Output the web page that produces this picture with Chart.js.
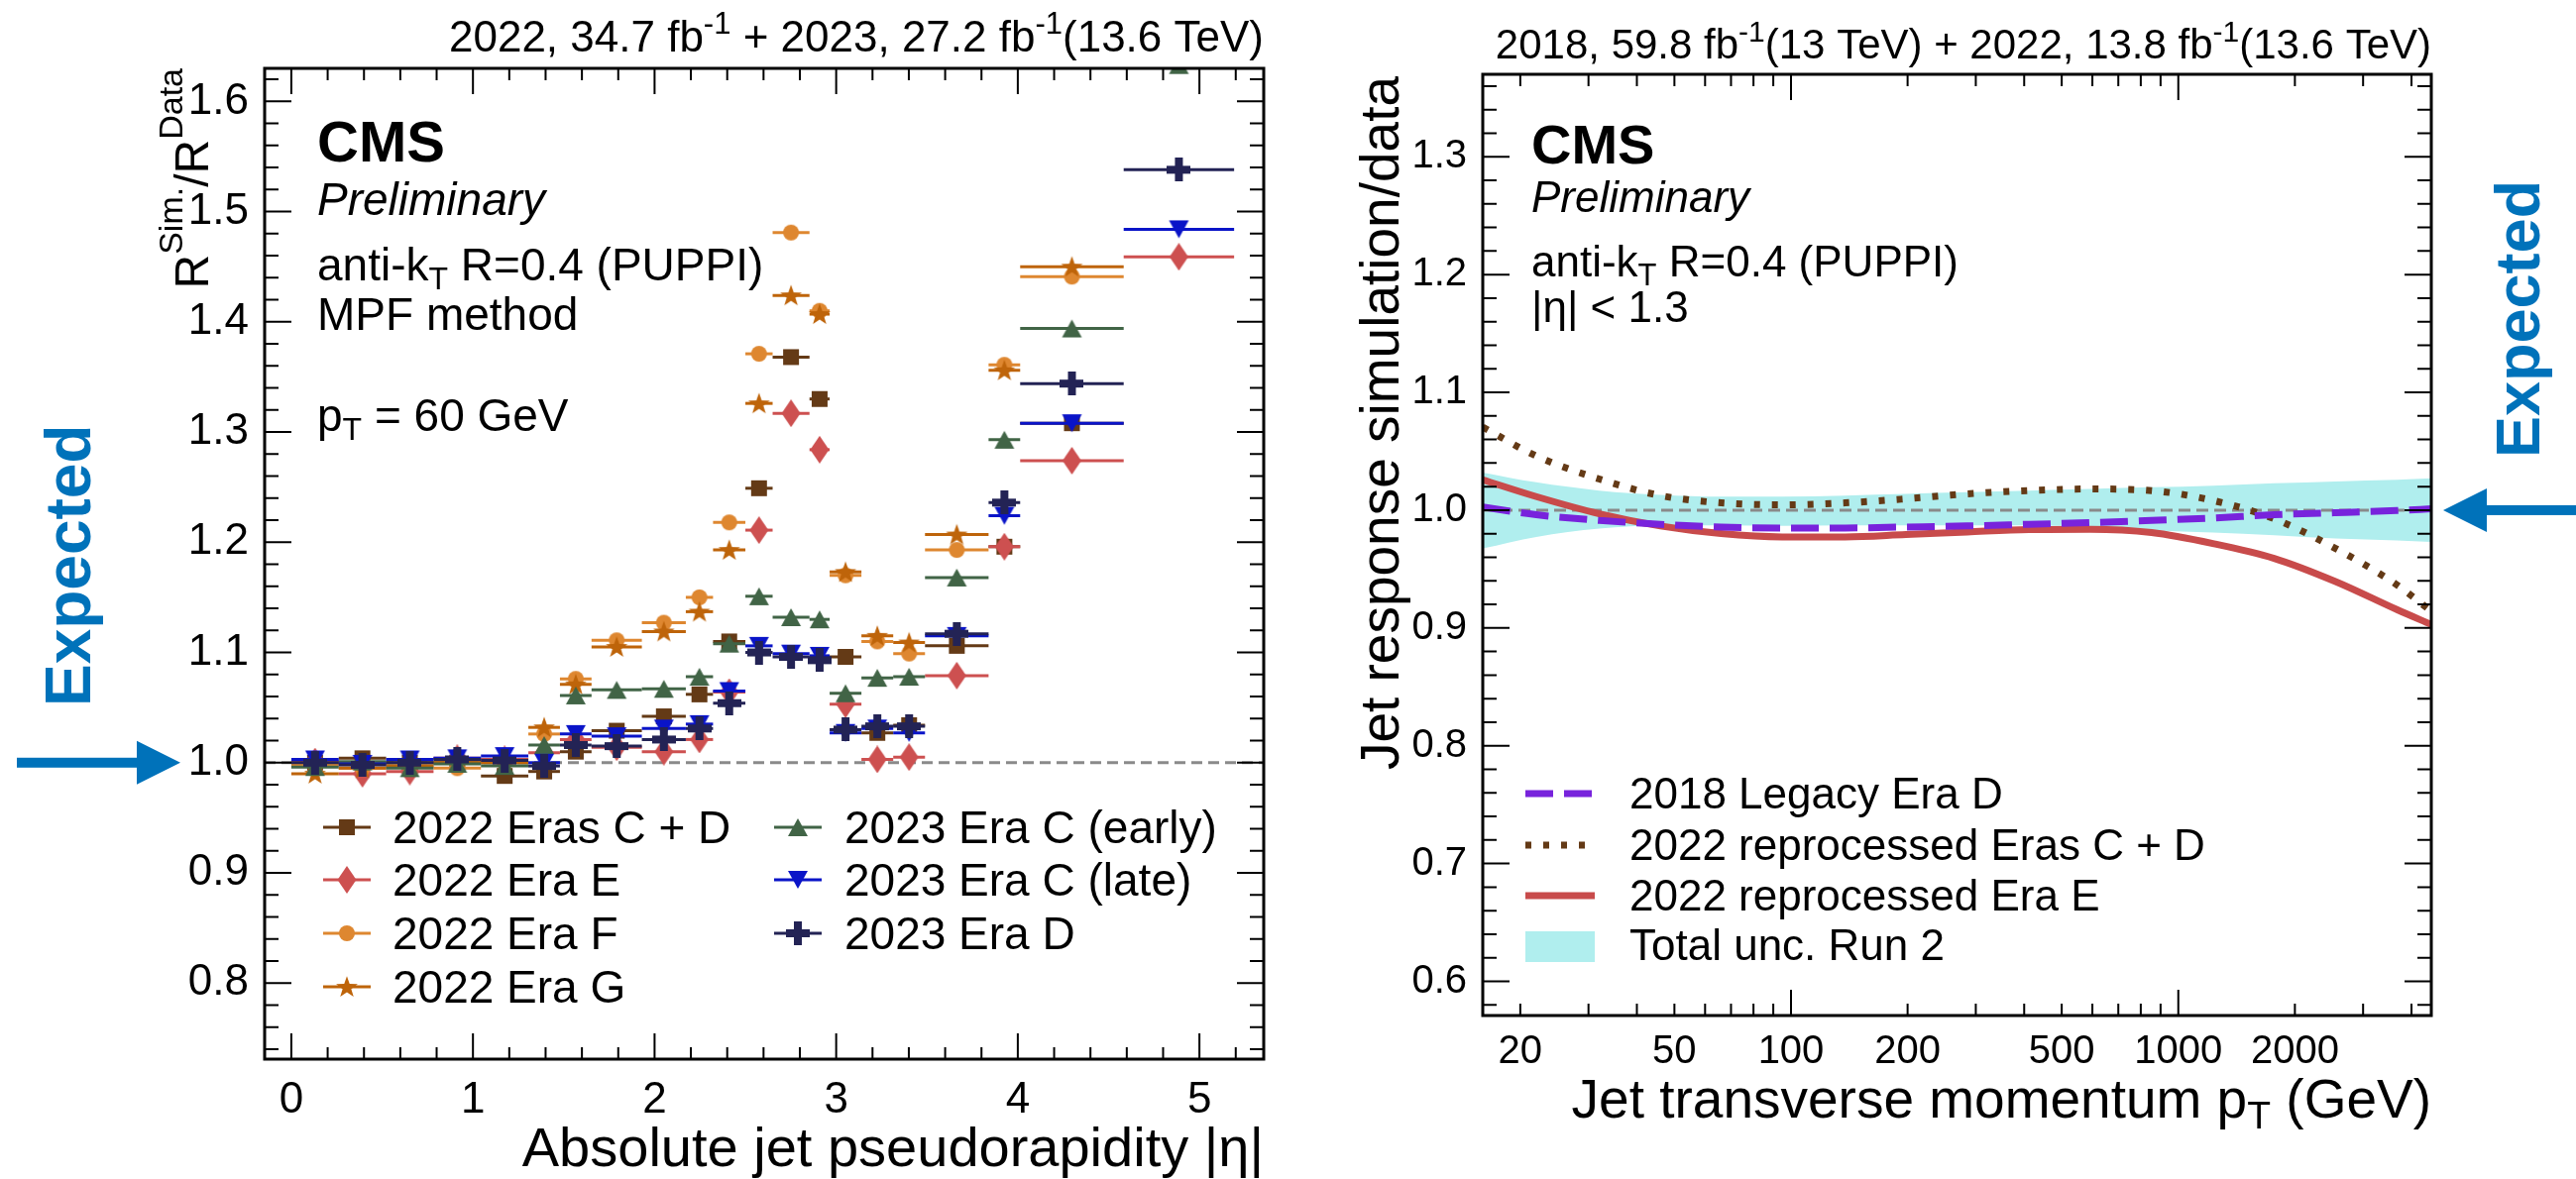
<!DOCTYPE html>
<html>
<head>
<meta charset="utf-8">
<script src="https://cdn.jsdelivr.net/npm/chart.js@4.4.1/dist/chart.umd.min.js"></script>
<style>
  html, body { margin: 0; padding: 0; background: #fff; }
  body { width: 2599px; height: 1190px; position: relative; overflow: hidden; }
  canvas { position: absolute; top: 0; }
  #etaChart { left: 0; }
  #ptChart { left: 1330px; }
</style>
</head>
<body>
<canvas id="etaChart" width="1330" height="1190"></canvas>
<canvas id="ptChart" width="1269" height="1190"></canvas>
<script>
const FONT = "'Liberation Sans', Arial, Helvetica, sans-serif";
Chart.defaults.font.family = FONT;
Chart.defaults.color = '#000';

/// Left panel data: |eta| bin edges and R(sim)/R(data) per era at pT = 60 GeV
const etaEdges = [0, 0.261, 0.522, 0.783, 1.044, 1.305, 1.479, 1.653, 1.930, 2.172, 2.322,
                  2.500, 2.650, 2.853, 2.964, 3.139, 3.314, 3.489, 3.839, 4.013, 4.583, 5.191];
const eraLabels = ['2022 Eras C + D', '2022 Era E', '2022 Era F', '2022 Era G',
                   '2023 Era C (early)', '2023 Era C (late)', '2023 Era D'];
const eraCD2022 = [1.000, 1.004, 1.000, 1.000, 0.988, 0.992, 1.010, 1.029, 1.042, 1.062, 1.110,
                   1.249, 1.368, 1.330, 1.096, 1.027, 1.034, 1.106, 1.196, 1.308, null];
const eraE2022 = [1.001, 0.990, 0.992, 1.004, 1.003, 1.009, 1.021, 1.014, 1.010, 1.021, 1.064,
                  1.211, 1.317, 1.284, 1.053, 1.003, 1.005, 1.079, 1.196, 1.274, 1.459];
const eraF2022 = [0.998, 0.995, 0.997, 0.995, 1.000, 1.026, 1.076, 1.111, 1.127, 1.150, 1.218,
                  1.371, 1.481, 1.410, 1.170, 1.110, 1.099, 1.193, 1.361, 1.441, null];
const eraG2022 = [0.990, 0.995, 0.997, 1.000, 1.000, 1.032, 1.071, 1.105, 1.119, 1.137, 1.193,
                  1.326, 1.424, 1.407, 1.173, 1.115, 1.109, 1.207, 1.356, 1.450, null];
const eraCearly2023 = [0.996, 1.001, 0.995, 0.999, 0.997, 1.016, 1.061, 1.066, 1.067, 1.078, 1.108,
                       1.151, 1.132, 1.130, 1.063, 1.077, 1.078, 1.168, 1.293, 1.394, 1.633];
const eraClate2023 = [1.003, 0.999, 1.003, 1.004, 1.006, 1.000, 1.026, 1.024, 1.031, 1.035, 1.065,
                      1.106, 1.099, 1.097, 1.027, 1.031, 1.027, 1.115, 1.224, 1.308, 1.484];
const eraD2023 = [1.000, 0.998, 1.000, 1.003, 1.002, 0.997, 1.016, 1.015, 1.021, 1.031, 1.054,
                  1.100, 1.096, 1.093, 1.030, 1.033, 1.033, 1.117, 1.236, 1.344, 1.538];
const etaTickLabels = [0, 1, 2, 3, 4, 5];
const respTickLabels = [0.8, 0.9, 1.0, 1.1, 1.2, 1.3, 1.4, 1.5, 1.6];

/// Right panel data: jet response simulation/data vs pT
const ptValues = [16, 22, 32, 46, 66, 95, 138, 198, 285, 411, 592, 853, 1228, 1768, 2547, 3668, 4500];
const fitLabels = ['2018 Legacy Era D', '2022 reprocessed Eras C + D', '2022 reprocessed Era E', 'Total unc. Run 2'];
const legacy2018D = [1.0026, 0.9961, 0.9913, 0.9880, 0.9857, 0.9849, 0.9849, 0.9857, 0.9866, 0.9880,
                     0.9894, 0.9913, 0.9933, 0.9961, 0.9978, 0.9997, 1.0011];
const reproCD2022 = [1.0705, 1.0460, 1.0264, 1.0124, 1.0062, 1.0045, 1.0062, 1.0096, 1.0138, 1.0166,
                     1.0180, 1.0166, 1.0082, 0.9927, 0.9675, 0.9366, 0.9142];
const reproE2022 = [1.0258, 1.0115, 0.9969, 0.9866, 0.9801, 0.9773, 0.9773, 0.9793, 0.9815, 0.9835,
                    0.9838, 0.9810, 0.9717, 0.9591, 0.9394, 0.9156, 0.9029];
const run2UncUp = [1.0320, 1.0236, 1.0166, 1.0130, 1.0115, 1.0115, 1.0124, 1.0138, 1.0152, 1.0166,
                   1.0180, 1.0194, 1.0208, 1.0228, 1.0244, 1.0258, 1.0270];
const run2UncDown = [0.9675, 0.9773, 0.9843, 0.9871, 0.9871, 0.9866, 0.9871, 0.9871, 0.9871, 0.9871,
                     0.9857, 0.9829, 0.9810, 0.9787, 0.9759, 0.9742, 0.9731];
const ptTickLabels = [20, 50, 100, 200, 500, 1000, 2000];
const simTickLabels = [0.6, 0.7, 0.8, 0.9, 1.0, 1.1, 1.2, 1.3];
const expectedValue = 1.0;

/// Styles
const eraColors = ['#643a16', '#cd5050', '#de8730', '#be640a', '#416446', '#0a14c8', '#232355'];
const eraShapes = ['square', 'diamond', 'circle', 'star', 'triUp', 'triDown', 'plus'];
const expectedBlue = '#0072ba';

function markerImage(shape, color) {
    const dims = { square: [18, 18], circle: [18, 18], diamond: [20, 28], star: [24, 24],
                   triUp: [22, 20], triDown: [22, 20], plus: [24, 24] }[shape];
    const c = document.createElement('canvas');
    c.width = dims[0]; c.height = dims[1];
    const g = c.getContext('2d');
    g.fillStyle = color;
    g.beginPath();
    if (shape === 'square') g.rect(1, 1, 16, 16);
    else if (shape === 'circle') g.arc(9, 9, 8, 0, Math.PI * 2);
    else if (shape === 'diamond') { g.moveTo(10, 0); g.lineTo(19.5, 14); g.lineTo(10, 28); g.lineTo(0.5, 14); g.closePath(); }
    else if (shape === 'star') {
        for (let k = 0; k < 10; k++) {
            const r = k % 2 ? 4.6 : 11.5;
            const a = -Math.PI / 2 + k * Math.PI / 5;
            const px = 12 + r * Math.cos(a), py = 12.8 + r * Math.sin(a);
            if (k) g.lineTo(px, py); else g.moveTo(px, py);
        }
        g.closePath();
    }
    else if (shape === 'triUp') { g.moveTo(11, 1); g.lineTo(21, 19); g.lineTo(1, 19); g.closePath(); }
    else if (shape === 'triDown') { g.moveTo(1, 1); g.lineTo(21, 1); g.lineTo(11, 19); g.closePath(); }
    else if (shape === 'plus') { g.rect(8, 0, 8, 24); g.rect(0, 8, 24, 8); }
    g.fill();
    return c;
}
const eraMarkers = eraShapes.map((s, i) => markerImage(s, eraColors[i]));

/// Text helpers
function fontOf(p) { return (p.style || '') + ' ' + p.size + 'px ' + FONT; }
function drawRich(ctx, parts, x, y, align) {
    ctx.textAlign = 'left';
    ctx.textBaseline = 'alphabetic';
    const widths = parts.map(p => { ctx.font = fontOf(p); return ctx.measureText(p.t).width; });
    const total = widths.reduce((a, b) => a + b, 0);
    let cx = align === 'right' ? x - total : x;
    parts.forEach((p, i) => {
        ctx.font = fontOf(p);
        ctx.fillText(p.t, cx, y + (p.dy || 0));
        cx += widths[i];
    });
}
function drawRotated(ctx, parts, x, y, align) {
    ctx.save();
    ctx.translate(x, y);
    ctx.rotate(-Math.PI / 2);
    drawRich(ctx, parts, 0, 0, align);
    ctx.restore();
}

/// Frame with inside ticks on all four sides (ROOT style)
function frameTicksPlugin(cfg) {
    return {
        id: 'frameTicks',
        afterDraw(chart) {
            const { ctx, chartArea: a, scales: { x, y } } = chart;
            ctx.save();
            ctx.strokeStyle = '#000';
            ctx.lineWidth = 2;
            ctx.beginPath();
            const xt = (list, len) => list.forEach(v => {
                const px = x.getPixelForValue(v);
                ctx.moveTo(px, a.bottom); ctx.lineTo(px, a.bottom - len);
                ctx.moveTo(px, a.top); ctx.lineTo(px, a.top + len);
            });
            const yt = (list, len) => list.forEach(v => {
                const py = y.getPixelForValue(v);
                ctx.moveTo(a.left, py); ctx.lineTo(a.left + len, py);
                ctx.moveTo(a.right, py); ctx.lineTo(a.right - len, py);
            });
            xt(cfg.xMajor, cfg.xMajorLen); xt(cfg.xMinor, cfg.xMinorLen);
            yt(cfg.yMajor, 27); yt(cfg.yMinor, 14);
            ctx.stroke();
            ctx.lineWidth = 3;
            ctx.strokeRect(a.left, a.top, a.right - a.left, a.bottom - a.top);
            ctx.restore();
        }
    };
}

function drawArrow(ctx, tipX, y, dir, headLen, lineEnd) {
    ctx.save();
    ctx.fillStyle = expectedBlue;
    const back = tipX - dir * headLen;
    ctx.fillRect(Math.min(back, lineEnd), y - 5, Math.abs(lineEnd - back), 10);
    ctx.beginPath();
    ctx.moveTo(tipX, y); ctx.lineTo(back, y - 22); ctx.lineTo(back, y + 22); ctx.closePath();
    ctx.fill();
    ctx.restore();
}

/// ---------------- Left chart ----------------
const etaCenters = etaEdges.slice(0, -1).map((e, i) => (e + etaEdges[i + 1]) / 2);
const eraSeries = [eraCD2022, eraE2022, eraF2022, eraG2022, eraCearly2023, eraClate2023, eraD2023];

const xMinorEta = [];
for (let v = 0; v <= 5.3; v += 0.2) xMinorEta.push(Math.round(v * 10) / 10);
const yMinorResp = [];
for (let v = 0.74; v <= 1.63; v += 0.02) yMinorResp.push(v);

const etaDecor = {
    id: 'etaDecor',
    beforeDatasetsDraw(chart) {
        const { ctx, chartArea: a, scales: { y } } = chart;
        const py = y.getPixelForValue(expectedValue);
        ctx.save();
        ctx.strokeStyle = '#8a8a8a';
        ctx.lineWidth = 3;
        ctx.setLineDash([11, 6]);
        ctx.beginPath(); ctx.moveTo(a.left, py); ctx.lineTo(a.right, py); ctx.stroke();
        ctx.restore();
    },
    beforeDatasetDraw(chart, args) {
        // horizontal bars covering the |eta| bin
        const { ctx, chartArea: a, scales: { x } } = chart;
        const ds = chart.data.datasets[args.index];
        ctx.save();
        ctx.beginPath(); ctx.rect(a.left, a.top, a.right - a.left, a.bottom - a.top); ctx.clip();
        ctx.strokeStyle = ds.borderColor;
        ctx.lineWidth = 3;
        args.meta.data.forEach((pt, j) => {
            if (pt.skip || !isFinite(pt.y)) return;
            ctx.beginPath();
            ctx.moveTo(x.getPixelForValue(etaEdges[j]), pt.y);
            ctx.lineTo(x.getPixelForValue(etaEdges[j + 1]), pt.y);
            ctx.stroke();
        });
        ctx.restore();
    },
    afterDraw(chart) {
        const { ctx, scales: { y } } = chart;
        ctx.save();
        ctx.fillStyle = '#000';
        drawRich(ctx, [{ t: '2022, 34.7 fb', size: 44 }, { t: '-1', size: 31, dy: -18 },
                       { t: ' + 2023, 27.2 fb', size: 44 }, { t: '-1', size: 31, dy: -18 },
                       { t: '(13.6 TeV)', size: 44 }], 1275, 52, 'right');
        drawRich(ctx, [{ t: 'CMS', size: 58, style: 'bold' }], 320, 163);
        drawRich(ctx, [{ t: 'Preliminary', size: 46, style: 'italic' }], 320, 217);
        drawRich(ctx, [{ t: 'anti-k', size: 46 }, { t: 'T', size: 32, dy: 9 }, { t: ' R=0.4 (PUPPI)', size: 46 }], 320, 283);
        drawRich(ctx, [{ t: 'MPF method', size: 46 }], 320, 333);
        drawRich(ctx, [{ t: 'p', size: 46 }, { t: 'T', size: 32, dy: 9 }, { t: ' = 60 GeV', size: 46 }], 320, 435);
        drawRich(ctx, [{ t: 'Absolute jet pseudorapidity |η|', size: 56 }], 1275, 1177, 'right');
        drawRotated(ctx, [{ t: 'R', size: 48 }, { t: 'Sim.', size: 34, dy: -26 }, { t: '/R', size: 48 },
                          { t: 'Data', size: 34, dy: -26 }], 210, 69, 'right');

        // legend, two columns
        const rowsY = [835, 888, 942, 996];
        eraLabels.forEach((lab, i) => {
            const col = i < 4 ? 0 : 1;
            const row = i < 4 ? i : i - 4;
            const mx = col ? 805 : 350;
            const my = rowsY[row];
            ctx.strokeStyle = eraColors[i];
            ctx.lineWidth = 3;
            ctx.beginPath(); ctx.moveTo(mx - 24, my); ctx.lineTo(mx + 24, my); ctx.stroke();
            const m = eraMarkers[i];
            ctx.drawImage(m, mx - m.width / 2, my - m.height / 2);
            ctx.fillStyle = '#000';
            drawRich(ctx, [{ t: lab, size: 46 }], col ? 852 : 396, my + 16);
        });

        // "Expected" marker
        const py = y.getPixelForValue(expectedValue);
        drawArrow(ctx, 182, py, 1, 44, 17);
        ctx.fillStyle = expectedBlue;
        drawRotated(ctx, [{ t: 'Expected', size: 64, style: 'bold' }], 91, 713, 'left');
        ctx.restore();
    }
};

const etaChart = new Chart("etaChart", {
    type: "scatter",
    data: {
        datasets: eraSeries.map((vals, i) => ({
            label: eraLabels[i],
            data: vals.map((v, j) => ({ x: etaCenters[j], y: v })),
            borderColor: eraColors[i],
            backgroundColor: eraColors[i],
            pointStyle: eraMarkers[i],
            pointRadius: 11,
            order: eraSeries.length - i,
            clip: 0
        }))
    },
    options: {
        responsive: false,
        animation: false,
        events: [],
        layout: { padding: { left: 167, right: 55, top: 69, bottom: 0 } },
        plugins: { legend: { display: false }, tooltip: { enabled: false } },
        scales: {
            x: {
                type: 'linear', min: -0.147, max: 5.354,
                grid: { display: false }, border: { display: false },
                afterBuildTicks: s => { s.ticks = etaTickLabels.map(v => ({ value: v })); },
                ticks: { padding: 7, font: { size: 44 }, maxRotation: 0, autoSkip: false,
                         callback: v => String(Math.round(v)) },
                afterFit: s => { s.height = 121; }
            },
            y: {
                min: 0.731, max: 1.630,
                grid: { display: false }, border: { display: false },
                afterBuildTicks: s => { s.ticks = respTickLabels.map(v => ({ value: v })); },
                ticks: { padding: 8, font: { size: 44 }, autoSkip: false, callback: v => v.toFixed(1) },
                afterFit: s => { s.width = 100; }
            }
        }
    },
    plugins: [etaDecor, frameTicksPlugin({
        xMajor: etaTickLabels, xMinor: xMinorEta, xMajorLen: 26, xMinorLen: 12,
        yMajor: respTickLabels, yMinor: yMinorResp
    })]
});

/// ---------------- Right chart ----------------
const xMinorPt = [];
[10, 100, 1000].forEach(d => { for (let k = 2; k <= 9; k++) if (k * d >= 16 && k * d <= 4500) xMinorPt.push(k * d); });
const yMinorSim = [];
for (let v = 0.58; v <= 1.37; v += 0.02) yMinorSim.push(v);

const bandIndex = 3;
const ptDecor = {
    id: 'ptDecor',
    afterDatasetDraw(chart, args) {
        if (args.index !== bandIndex) return;
        const { ctx, chartArea: a, scales: { y } } = chart;
        const py = y.getPixelForValue(expectedValue);
        ctx.save();
        ctx.strokeStyle = '#8a8a8a';
        ctx.lineWidth = 3;
        ctx.setLineDash([12, 6]);
        ctx.beginPath(); ctx.moveTo(a.left, py); ctx.lineTo(a.right, py); ctx.stroke();
        ctx.restore();
    },
    afterDraw(chart) {
        const { ctx, scales: { y } } = chart;
        const ox = 1330;
        ctx.save();
        ctx.fillStyle = '#000';
        drawRich(ctx, [{ t: '2018, 59.8 fb', size: 42 }, { t: '-1', size: 30, dy: -17 },
                       { t: '(13 TeV) + 2022, 13.8 fb', size: 42 }, { t: '-1', size: 30, dy: -17 },
                       { t: '(13.6 TeV)', size: 42 }], 2453 - ox, 59, 'right');
        drawRich(ctx, [{ t: 'CMS', size: 56, style: 'bold' }], 1545 - ox, 165);
        drawRich(ctx, [{ t: 'Preliminary', size: 44, style: 'italic' }], 1545 - ox, 214);
        drawRich(ctx, [{ t: 'anti-k', size: 44 }, { t: 'T', size: 31, dy: 9 }, { t: ' R=0.4 (PUPPI)', size: 44 }], 1545 - ox, 279);
        drawRich(ctx, [{ t: '|η| < 1.3', size: 44 }], 1545 - ox, 325);
        drawRich(ctx, [{ t: 'Jet transverse momentum p', size: 55 }, { t: 'T', size: 39, dy: 11 },
                       { t: ' (GeV)', size: 55 }], 2453 - ox, 1128, 'right');
        drawRotated(ctx, [{ t: 'Jet response simulation/data', size: 55 }], 1411 - ox, 77, 'right');

        // legend
        const sx0 = 1539 - ox, sx1 = 1609 - ox, tx = 1644 - ox;
        const ds = chart.data.datasets;
        [801, 853, 904].forEach((ly, i) => {
            ctx.save();
            ctx.strokeStyle = ds[i].borderColor;
            ctx.lineWidth = ds[i].borderWidth;
            ctx.setLineDash(ds[i].borderDash || []);
            ctx.beginPath(); ctx.moveTo(sx0, ly); ctx.lineTo(sx1, ly); ctx.stroke();
            ctx.restore();
            drawRich(ctx, [{ t: fitLabels[i], size: 44 }], tx, ly + 15);
        });
        ctx.fillStyle = ds[bandIndex].backgroundColor;
        ctx.fillRect(sx0, 940, sx1 - sx0, 31);
        ctx.fillStyle = '#000';
        drawRich(ctx, [{ t: fitLabels[3], size: 44 }], tx, 969);

        // "Expected" marker
        const py = y.getPixelForValue(expectedValue);
        drawArrow(ctx, 2465 - ox, py, -1, 44, 2599 - ox);
        ctx.fillStyle = expectedBlue;
        drawRotated(ctx, [{ t: 'Expected', size: 63, style: 'bold' }], 2562 - ox, 462, 'left');
        ctx.restore();
    }
};

const curve = (vals) => ptValues.map((p, i) => ({ x: p, y: vals[i] }));
const ptChart = new Chart("ptChart", {
    type: "line",
    data: {
        datasets: [
            {
                label: fitLabels[0],
                data: curve(legacy2018D),
                borderColor: '#7823dc',
                borderWidth: 7,
                borderDash: [28, 11],
                cubicInterpolationMode: 'monotone',
                pointRadius: 0, fill: false, order: 1
            },
            {
                label: fitLabels[1],
                data: curve(reproCD2022),
                borderColor: '#643a16',
                borderWidth: 7,
                borderDash: [6, 12],
                cubicInterpolationMode: 'monotone',
                pointRadius: 0, fill: false, order: 2
            },
            {
                label: fitLabels[2],
                data: curve(reproE2022),
                borderColor: '#c84b4b',
                borderWidth: 7,
                cubicInterpolationMode: 'monotone',
                pointRadius: 0, fill: false, order: 3
            },
            {
                label: fitLabels[3],
                data: curve(run2UncUp),
                borderColor: 'rgba(0,0,0,0)',
                backgroundColor: '#b0eeee',
                borderWidth: 0,
                cubicInterpolationMode: 'monotone',
                pointRadius: 0, fill: '+1', order: 10
            },
            {
                label: 'Total unc. Run 2 (low)',
                data: curve(run2UncDown),
                borderColor: 'rgba(0,0,0,0)',
                borderWidth: 0,
                cubicInterpolationMode: 'monotone',
                pointRadius: 0, fill: false, order: 11
            }
        ]
    },
    options: {
        responsive: false,
        animation: false,
        events: [],
        layout: { padding: { left: 66, right: 146, top: 75, bottom: 0 } },
        plugins: { legend: { display: false }, tooltip: { enabled: false } },
        scales: {
            x: {
                type: 'logarithmic', min: 16, max: 4500,
                grid: { display: false }, border: { display: false },
                afterBuildTicks: s => { s.ticks = ptTickLabels.map(v => ({ value: v })); },
                ticks: { padding: 5, font: { size: 40 }, maxRotation: 0, autoSkip: false,
                         callback: v => String(Math.round(v)) },
                afterFit: s => { s.height = 165; }
            },
            y: {
                min: 0.571, max: 1.370,
                grid: { display: false }, border: { display: false },
                afterBuildTicks: s => { s.ticks = simTickLabels.map(v => ({ value: v })); },
                ticks: { padding: 8, font: { size: 40 }, autoSkip: false, callback: v => v.toFixed(1) },
                afterFit: s => { s.width = 100; }
            }
        }
    },
    plugins: [ptDecor, frameTicksPlugin({
        xMajor: [100, 1000], xMinor: xMinorPt, xMajorLen: 26, xMinorLen: 12,
        yMajor: simTickLabels, yMinor: yMinorSim
    })]
});
</script>
</body>
</html>
